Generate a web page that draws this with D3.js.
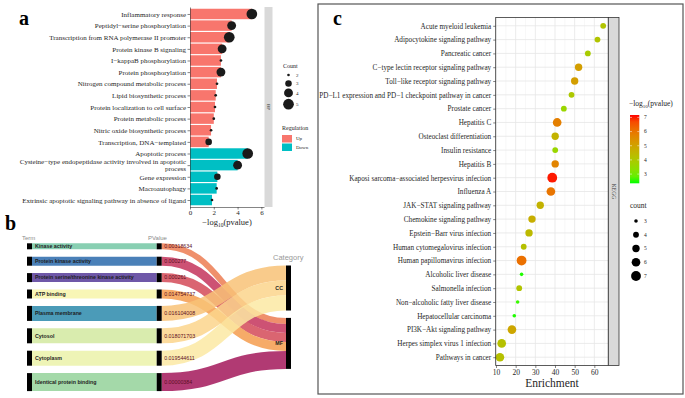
<!DOCTYPE html>
<html lang="en">
<head>
<meta charset="utf-8">
<title>GO / KEGG enrichment</title>
<script src="https://d3js.org/d3.v7.min.js"></script>
<style>
  body { margin: 0; background: #fff; }
  svg { display: block; }
</style>
</head>
<body>
<svg id="fig" width="685" height="398"></svg>
<script>
// ---------- panel a : GO biological process ----------
const goTerms = [
  "Inflammatory response",
  "Peptidyl\u2212serine phosphorylation",
  "Transcription from RNA polymerase II promoter",
  "Protein kinase B signaling",
  "I\u2212kappaB phosphorylation",
  "Protein phosphorylation",
  "Nitrogen compound metabolic process",
  "Lipid biosynthetic process",
  "Protein localization to cell surface",
  "Protein metabolic process",
  "Nitric oxide biosynthetic process",
  "Transcription, DNA\u2212templated",
  "Apoptotic process",
  "Cysteine\u2212type endopeptidase activity involved in apoptotic\nprocess",
  "Gene expression",
  "Macroautophagy",
  "Extrinsic apoptotic signaling pathway in absence of ligand"
];
const goLogP = [5.2, 3.5, 3.3, 2.7, 2.6, 2.6, 2.27, 2.16, 2.1, 2.0, 1.77, 1.57, 4.85, 4.0, 2.3, 2.24, 1.85];
const goCount = [5, 4, 5, 4, 2, 4, 2, 2, 2, 2, 2, 3, 5, 4, 3, 2, 2];
const goReg = ["Up","Up","Up","Up","Up","Up","Up","Up","Up","Up","Up","Up","Down","Down","Down","Down","Down"];
const goTicks = [0, 2, 4, 6];
const countKeysA = [2, 3, 4, 5];
const regKeys = ["Up", "Down"];

// ---------- panel b : term -> pvalue -> category ----------
const bTerms = ["Kinase activity", "Protein kinase activity", "Protein serine/threonine kinase activity",
  "ATP binding", "Plasma membrane", "Cytosol", "Cytoplasm", "Identical protein binding"];
const bPvals = ["0.00318634", "0.000277", "0.000261", "0.014754737", "0.016104008", "0.018071703", "0.019544611", "0.00000384"];
const bCats = ["MF", "MF", "MF", "MF", "CC", "CC", "CC", "MF"];
const bCounts = [2, 3, 3, 3, 5, 5, 5, 6];
const bCategoryOrder = ["CC", "MF"];

// ---------- panel c : KEGG ----------
const keggTerms = [
  "Acute myeloid leukemia",
  "Adipocytokine signaling pathway",
  "Pancreatic cancer",
  "C\u2212type lectin receptor signaling pathway",
  "Toll\u2212like receptor signaling pathway",
  "PD\u2212L1 expression and PD\u22121 checkpoint pathway in cancer",
  "Prostate cancer",
  "Hepatitis C",
  "Osteoclast differentiation",
  "Insulin resistance",
  "Hepatitis B",
  "Kaposi sarcoma\u2212associated herpesvirus infection",
  "Influenza A",
  "JAK\u2212STAT signaling pathway",
  "Chemokine signaling pathway",
  "Epstein\u2212Barr virus infection",
  "Human cytomegalovirus infection",
  "Human papillomavirus infection",
  "Alcoholic liver disease",
  "Salmonella infection",
  "Non\u2212alcoholic fatty liver disease",
  "Hepatocellular carcinoma",
  "PI3K\u2212Akt signaling pathway",
  "Herpes simplex virus 1 infection",
  "Pathways in cancer"
];
const keggEnrich = [64.5, 61.6, 56.7, 52, 50, 48.4, 44.5, 41.1, 40.1, 40.1, 40.1, 38.6, 37.9,
  32.5, 28.3, 26.8, 24.1, 23, 23, 21.8, 21, 19.3, 18.1, 12.9, 12];
const keggLogP = [4.1, 4.1, 3.9, 5.1, 5.1, 4.0, 3.6, 5.8, 4.6, 3.6, 5.7, 7.1, 6.0,
  4.6, 4.7, 4.4, 4.2, 6.1, 2.4, 4.1, 2.5, 2.4, 4.9, 4.2, 4.2];
const keggCount = [4, 4, 4, 5, 5, 4, 4, 6, 5, 4, 5, 7, 6, 5, 5, 5, 4, 7, 3, 4, 3, 3, 6, 6, 6];
const keggTicks = [10, 20, 30, 40, 50, 60];
const colorTicks = [3, 4, 5, 6, 7];
const countKeysC = [3, 4, 5, 6, 7];

// ---------- styles ----------
const serif = "'Liberation Serif', 'Times New Roman', serif";
const sans = "'Liberation Sans', Arial, sans-serif";
const textCol = "#262626";
const termColors = ["#88cfb2", "#4a80b8", "#6f58a8", "#f8f6b6", "#4b9bb8", "#d9ecae", "#eef4b6", "#a4d9a9"];
const pvalColors = ["#ec7d52", "#c4345c", "#d44a58", "#f49c4e", "#f8c277", "#fbd58c", "#fce9a3", "#a3185a"];

const svg = d3.select("#fig");
svg.append("rect").attr("width", 685).attr("height", 398).attr("fill", "#fff");

function styleAxis(g, size) {
  g.select(".domain").attr("stroke", "#333").attr("stroke-width", 0.6);
  g.selectAll(".tick line").attr("stroke", "#333").attr("stroke-width", 0.6);
  g.selectAll(".tick text").attr("fill", textCol).attr("font-family", serif).attr("font-size", size);
}

// ================= panel a =================
const ga = svg.append("g");
ga.append("text").attr("x", 19).attr("y", 25).attr("font-family", serif)
  .attr("font-weight", "bold").attr("font-size", 20).text("a");

const ax = d3.scaleLinear().domain([0, 6.22]).range([190, 264]);
const ay = d3.scalePoint().domain(goTerms).range([7, 207]).padding(0.6);
const aArea = d3.scaleLinear().domain([2, 5]).range([1.8, 28.6]);
const regColor = d3.scaleOrdinal().domain(regKeys).range(["#f8766d", "#00bfc4"]);
const barH = ay.step() * 0.9;

ga.append("g").selectAll("rect").data(goTerms).join("rect")
  .attr("x", ax(0))
  .attr("y", d => ay(d) - barH / 2)
  .attr("width", (d, i) => ax(goLogP[i]) - ax(0))
  .attr("height", barH)
  .attr("fill", (d, i) => regColor(goReg[i]));

ga.append("g").selectAll("circle").data(goTerms).join("circle")
  .attr("cx", (d, i) => ax(goLogP[i]))
  .attr("cy", d => ay(d))
  .attr("r", (d, i) => Math.sqrt(aArea(goCount[i])))
  .attr("fill", "#1a1a1a");

const ayAxis = ga.append("g").attr("transform", `translate(${ax(0)},0)`)
  .call(d3.axisLeft(ay).tickSize(2.5).tickSizeOuter(0).tickPadding(1.5));
styleAxis(ayAxis, 7);
ayAxis.selectAll(".tick text").each(function(d) {
  const lines = d.split("\n");
  if (lines.length < 2) return;
  const t = d3.select(this).text(null).attr("dy", null);
  lines.forEach((ln, k) => {
    t.append("tspan").attr("x", -4).attr("dy", k === 0 ? "-0.2em" : "1em").text(ln);
  });
});

const axAxis = ga.append("g").attr("transform", "translate(0,207)")
  .call(d3.axisBottom(ax).tickValues(goTicks).tickFormat(d3.format("d"))
    .tickSize(2.5).tickSizeOuter(0).tickPadding(1));
styleAxis(axAxis, 7);

const aTitle = ga.append("text").attr("x", (ax.range()[0] + ax.range()[1]) / 2).attr("y", 225)
  .attr("text-anchor", "middle").attr("font-family", serif).attr("font-size", 8.5).attr("fill", textCol);
aTitle.append("tspan").text("\u2212log");
aTitle.append("tspan").attr("font-size", 5.5).attr("dy", 1.5).text("10");
aTitle.append("tspan").attr("dy", -1.5).text("(pvalue)");

// strip
ga.append("rect").attr("x", 264.5).attr("y", 7).attr("width", 8).attr("height", 200).attr("fill", "#d9d9d9");
ga.append("text").attr("transform", "translate(267,107) rotate(90)").attr("text-anchor", "middle")
  .attr("font-family", serif).attr("font-size", 5).attr("fill", "#333").text("BP");

// legends
ga.append("text").attr("x", 283).attr("y", 68).attr("font-family", serif).attr("font-size", 6)
  .attr("fill", textCol).text("Count");
let ky = 75;
countKeysA.forEach((c, i) => {
  const r = Math.sqrt(aArea(c));
  if (i > 0) {
    const rp = Math.sqrt(aArea(countKeysA[i - 1]));
    ky += (Math.max(8.5, 2 * rp + 1.5) + Math.max(8.5, 2 * r + 1.5)) / 2;
  }
  ga.append("circle").attr("cx", 288.5).attr("cy", ky).attr("r", r).attr("fill", "#1a1a1a");
  ga.append("text").attr("x", 296).attr("y", ky).attr("dy", "0.32em").attr("font-family", serif)
    .attr("font-size", 5).attr("fill", textCol).text(c);
});
ga.append("text").attr("x", 282).attr("y", 130).attr("font-family", serif).attr("font-size", 6)
  .attr("fill", textCol).text("Regulation");
regKeys.forEach((k, i) => {
  ga.append("rect").attr("x", 282).attr("y", 135 + i * 8.5).attr("width", 10).attr("height", 7.5)
    .attr("fill", regColor(k));
  ga.append("text").attr("x", 296).attr("y", 138.8 + i * 8.5).attr("dy", "0.32em").attr("font-family", serif)
    .attr("font-size", 5).attr("fill", textCol).text(k);
});

// ================= panel b =================
const gb = svg.append("g");
gb.append("text").attr("x", 5).attr("y", 230).attr("font-family", serif)
  .attr("font-weight", "bold").attr("font-size", 20).text("b");

const hScale = d3.scaleLinear().domain([0, 1]).range([0, 3.0]);
const gapB = 7.4;
const col = { term: 27, pval: 156.7, cat: 286 };
const nodeW = 5;

let yy = 243.3;
const termNodes = bTerms.map((t, i) => {
  const h = hScale(bCounts[i]);
  const n = { y0: yy, y1: yy + h, h };
  yy += h + gapB;
  return n;
});
const colTop = termNodes[0].y0, colBot = termNodes[termNodes.length - 1].y1;
const catTotals = bCategoryOrder.map(c => d3.sum(bCounts.filter((v, i) => bCats[i] === c)));
const catHeight = d3.sum(catTotals, hScale) + gapB * (catTotals.length - 1);
let cy0 = (colTop + colBot) / 2 - catHeight / 2;
const catNodes = {};
bCategoryOrder.forEach((c, k) => {
  const h = hScale(catTotals[k]);
  catNodes[c] = { y0: cy0, y1: cy0 + h, off: cy0 };
  cy0 += h + gapB;
});

const link = d3.linkHorizontal();

// term -> pvalue bands
gb.append("g").selectAll("path.tl").data(bTerms).join("path")
  .attr("fill", "none")
  .attr("stroke", (d, i) => termColors[i])
  .attr("stroke-width", (d, i) => termNodes[i].h)
  .attr("d", (d, i) => {
    const yc = (termNodes[i].y0 + termNodes[i].y1) / 2;
    return link({ source: [col.term + nodeW, yc], target: [col.pval, yc] });
  });

// pvalue -> category bands
const catLinks = bTerms.map((t, i) => {
  const cn = catNodes[bCats[i]];
  const h = termNodes[i].h;
  const yt = cn.off + h / 2;
  cn.off += h;
  return { i, ys: (termNodes[i].y0 + termNodes[i].y1) / 2, yt, h };
});
gb.append("g").selectAll("path").data(catLinks).join("path")
  .attr("fill", "none")
  .attr("stroke", d => pvalColors[d.i])
  .attr("stroke-opacity", 0.85)
  .attr("stroke-width", d => d.h)
  .attr("d", d => link({ source: [col.pval + nodeW, d.ys], target: [col.cat, d.yt] }));

// nodes
[col.term, col.pval].forEach(x => {
  gb.append("g").selectAll("rect").data(termNodes).join("rect")
    .attr("x", x).attr("y", d => d.y0).attr("width", nodeW).attr("height", d => d.h).attr("fill", "#000");
});
gb.append("g").selectAll("rect").data(bCategoryOrder).join("rect")
  .attr("x", col.cat).attr("y", c => catNodes[c].y0).attr("width", nodeW)
  .attr("height", c => catNodes[c].y1 - catNodes[c].y0).attr("fill", "#000");

// labels
gb.append("g").selectAll("text").data(bTerms).join("text")
  .attr("x", col.term + nodeW + 3).attr("y", (d, i) => (termNodes[i].y0 + termNodes[i].y1) / 2)
  .attr("dy", "0.35em").attr("font-family", sans).attr("font-weight", "bold").attr("font-size", 5.3)
  .attr("fill", "#1e1e1e").text(d => d);
gb.append("g").selectAll("text").data(bPvals).join("text")
  .attr("x", col.pval + nodeW + 2.5).attr("y", (d, i) => (termNodes[i].y0 + termNodes[i].y1) / 2)
  .attr("dy", "0.35em").attr("font-family", sans).attr("font-size", 5.3)
  .attr("fill", "#5c0f1f").text(d => d);
gb.append("g").selectAll("text").data(bCategoryOrder).join("text")
  .attr("x", col.cat - 3).attr("y", c => (catNodes[c].y0 + catNodes[c].y1) / 2)
  .attr("dy", "0.35em").attr("text-anchor", "end").attr("font-family", sans).attr("font-weight", "bold")
  .attr("font-size", 5.3).attr("fill", "#1e1e1e").text(c => c);

gb.append("text").attr("x", 22).attr("y", 240).attr("font-family", sans).attr("font-size", 6)
  .attr("fill", "#8a8a8a").text("Term");
gb.append("text").attr("x", 148).attr("y", 240).attr("font-family", sans).attr("font-size", 6)
  .attr("fill", "#8a8a8a").text("PValue");
gb.append("text").attr("x", 273).attr("y", 260).attr("font-family", sans).attr("font-size", 7.5)
  .attr("fill", "#999").text("Category");

// ================= panel c =================
const gc = svg.append("g");
gc.append("rect").attr("x", 318).attr("y", 4).attr("width", 365).attr("height", 390)
  .attr("fill", "none").attr("stroke", "#555").attr("stroke-width", 1.2);
gc.append("text").attr("x", 333).attr("y", 25).attr("font-family", serif)
  .attr("font-weight", "bold").attr("font-size", 20).text("c");

const cx = d3.scaleLinear().domain([9.85, 67.1]).range([495.7, 608.3]);
const cyS = d3.scalePoint().domain(keggTerms).range([17.5, 365.5]).padding(0.6);
const cArea = d3.scaleLinear().domain([3, 7]).range([3.2, 24]);
const cColor = d3.scaleLinear().domain([2.35, 7.17]).range(["#00ff00", "#ff0000"]).interpolate(d3.interpolateLab);
const [px0, px1] = cx.range(), [py0, py1] = cyS.range();

// grid
const minor = d3.range(15, 67, 10);
gc.append("g").selectAll("line").data(minor).join("line")
  .attr("x1", d => cx(d)).attr("x2", d => cx(d)).attr("y1", py0).attr("y2", py1)
  .attr("stroke", "#f0f0f0").attr("stroke-width", 0.5);
gc.append("g").selectAll("line").data(keggTicks).join("line")
  .attr("x1", d => cx(d)).attr("x2", d => cx(d)).attr("y1", py0).attr("y2", py1)
  .attr("stroke", "#e6e6e6").attr("stroke-width", 0.8);
gc.append("g").selectAll("line").data(keggTerms).join("line")
  .attr("x1", px0).attr("x2", px1).attr("y1", d => cyS(d)).attr("y2", d => cyS(d))
  .attr("stroke", "#e6e6e6").attr("stroke-width", 0.8);

gc.append("g").selectAll("circle").data(keggTerms).join("circle")
  .attr("cx", (d, i) => cx(keggEnrich[i]))
  .attr("cy", d => cyS(d))
  .attr("r", (d, i) => Math.sqrt(cArea(keggCount[i])))
  .attr("fill", (d, i) => cColor(keggLogP[i]));

gc.append("rect").attr("x", px0).attr("y", py0).attr("width", px1 - px0).attr("height", py1 - py0)
  .attr("fill", "none").attr("stroke", "#333").attr("stroke-width", 0.8);

const cyAxis = gc.append("g").attr("transform", `translate(${px0},0)`)
  .call(d3.axisLeft(cyS).tickSize(2.5).tickSizeOuter(0).tickPadding(2));
styleAxis(cyAxis, 7.2);
cyAxis.select(".domain").remove();
const cxAxis = gc.append("g").attr("transform", `translate(0,${py1})`)
  .call(d3.axisBottom(cx).tickValues(keggTicks).tickSize(2.5).tickSizeOuter(0).tickPadding(1.5));
styleAxis(cxAxis, 7.5);
cxAxis.select(".domain").remove();
gc.append("text").attr("x", (px0 + px1) / 2).attr("y", 387).attr("text-anchor", "middle")
  .attr("font-family", serif).attr("font-size", 11.5).attr("fill", textCol).text("Enrichment");

// strip
gc.append("rect").attr("x", px1).attr("y", py0).attr("width", 10.7).attr("height", py1 - py0)
  .attr("fill", "#d9d9d9").attr("stroke", "#333").attr("stroke-width", 0.8);
gc.append("text").attr("transform", `translate(${px1 + 3.3},${(py0 + py1) / 2}) rotate(90)`)
  .attr("text-anchor", "middle").attr("font-family", serif).attr("font-size", 5.5).attr("fill", "#333").text("KEGG");

// colour legend
const cTitle = gc.append("text").attr("x", 629).attr("y", 106).attr("font-family", serif)
  .attr("font-size", 7.5).attr("fill", textCol);
cTitle.append("tspan").text("\u2212log");
cTitle.append("tspan").attr("font-size", 5).attr("dy", 1.5).text("10");
cTitle.append("tspan").attr("dy", -1.5).text("(pvalue)");

const barY = d3.scaleLinear().domain(cColor.domain()).range([183.3, 115]);
const grad = svg.append("defs").append("linearGradient").attr("id", "cgrad")
  .attr("x1", 0).attr("y1", 1).attr("x2", 0).attr("y2", 0);
d3.range(0, 1.0001, 0.1).forEach(t => {
  const v = cColor.domain()[0] + t * (cColor.domain()[1] - cColor.domain()[0]);
  grad.append("stop").attr("offset", t).attr("stop-color", cColor(v));
});
gc.append("rect").attr("x", 630).attr("y", barY.range()[1]).attr("width", 9.3)
  .attr("height", barY.range()[0] - barY.range()[1]).attr("fill", "url(#cgrad)");
colorTicks.forEach(v => {
  gc.append("line").attr("x1", 630).attr("x2", 632).attr("y1", barY(v)).attr("y2", barY(v))
    .attr("stroke", "#fff").attr("stroke-width", 0.5);
  gc.append("line").attr("x1", 637.3).attr("x2", 639.3).attr("y1", barY(v)).attr("y2", barY(v))
    .attr("stroke", "#fff").attr("stroke-width", 0.5);
  gc.append("text").attr("x", 644).attr("y", barY(v)).attr("dy", "0.32em").attr("font-family", serif)
    .attr("font-size", 5.5).attr("fill", textCol).text(v);
});

// count legend
gc.append("text").attr("x", 630).attr("y", 208).attr("font-family", serif).attr("font-size", 7.5)
  .attr("fill", textCol).text("count");
countKeysC.forEach((c, i) => {
  const yk = 221 + i * 13.75;
  gc.append("circle").attr("cx", 636).attr("cy", yk).attr("r", Math.sqrt(cArea(c))).attr("fill", "#000");
  gc.append("text").attr("x", 644).attr("y", yk).attr("dy", "0.32em").attr("font-family", serif)
    .attr("font-size", 5.5).attr("fill", textCol).text(c);
});
</script>
</body>
</html>
